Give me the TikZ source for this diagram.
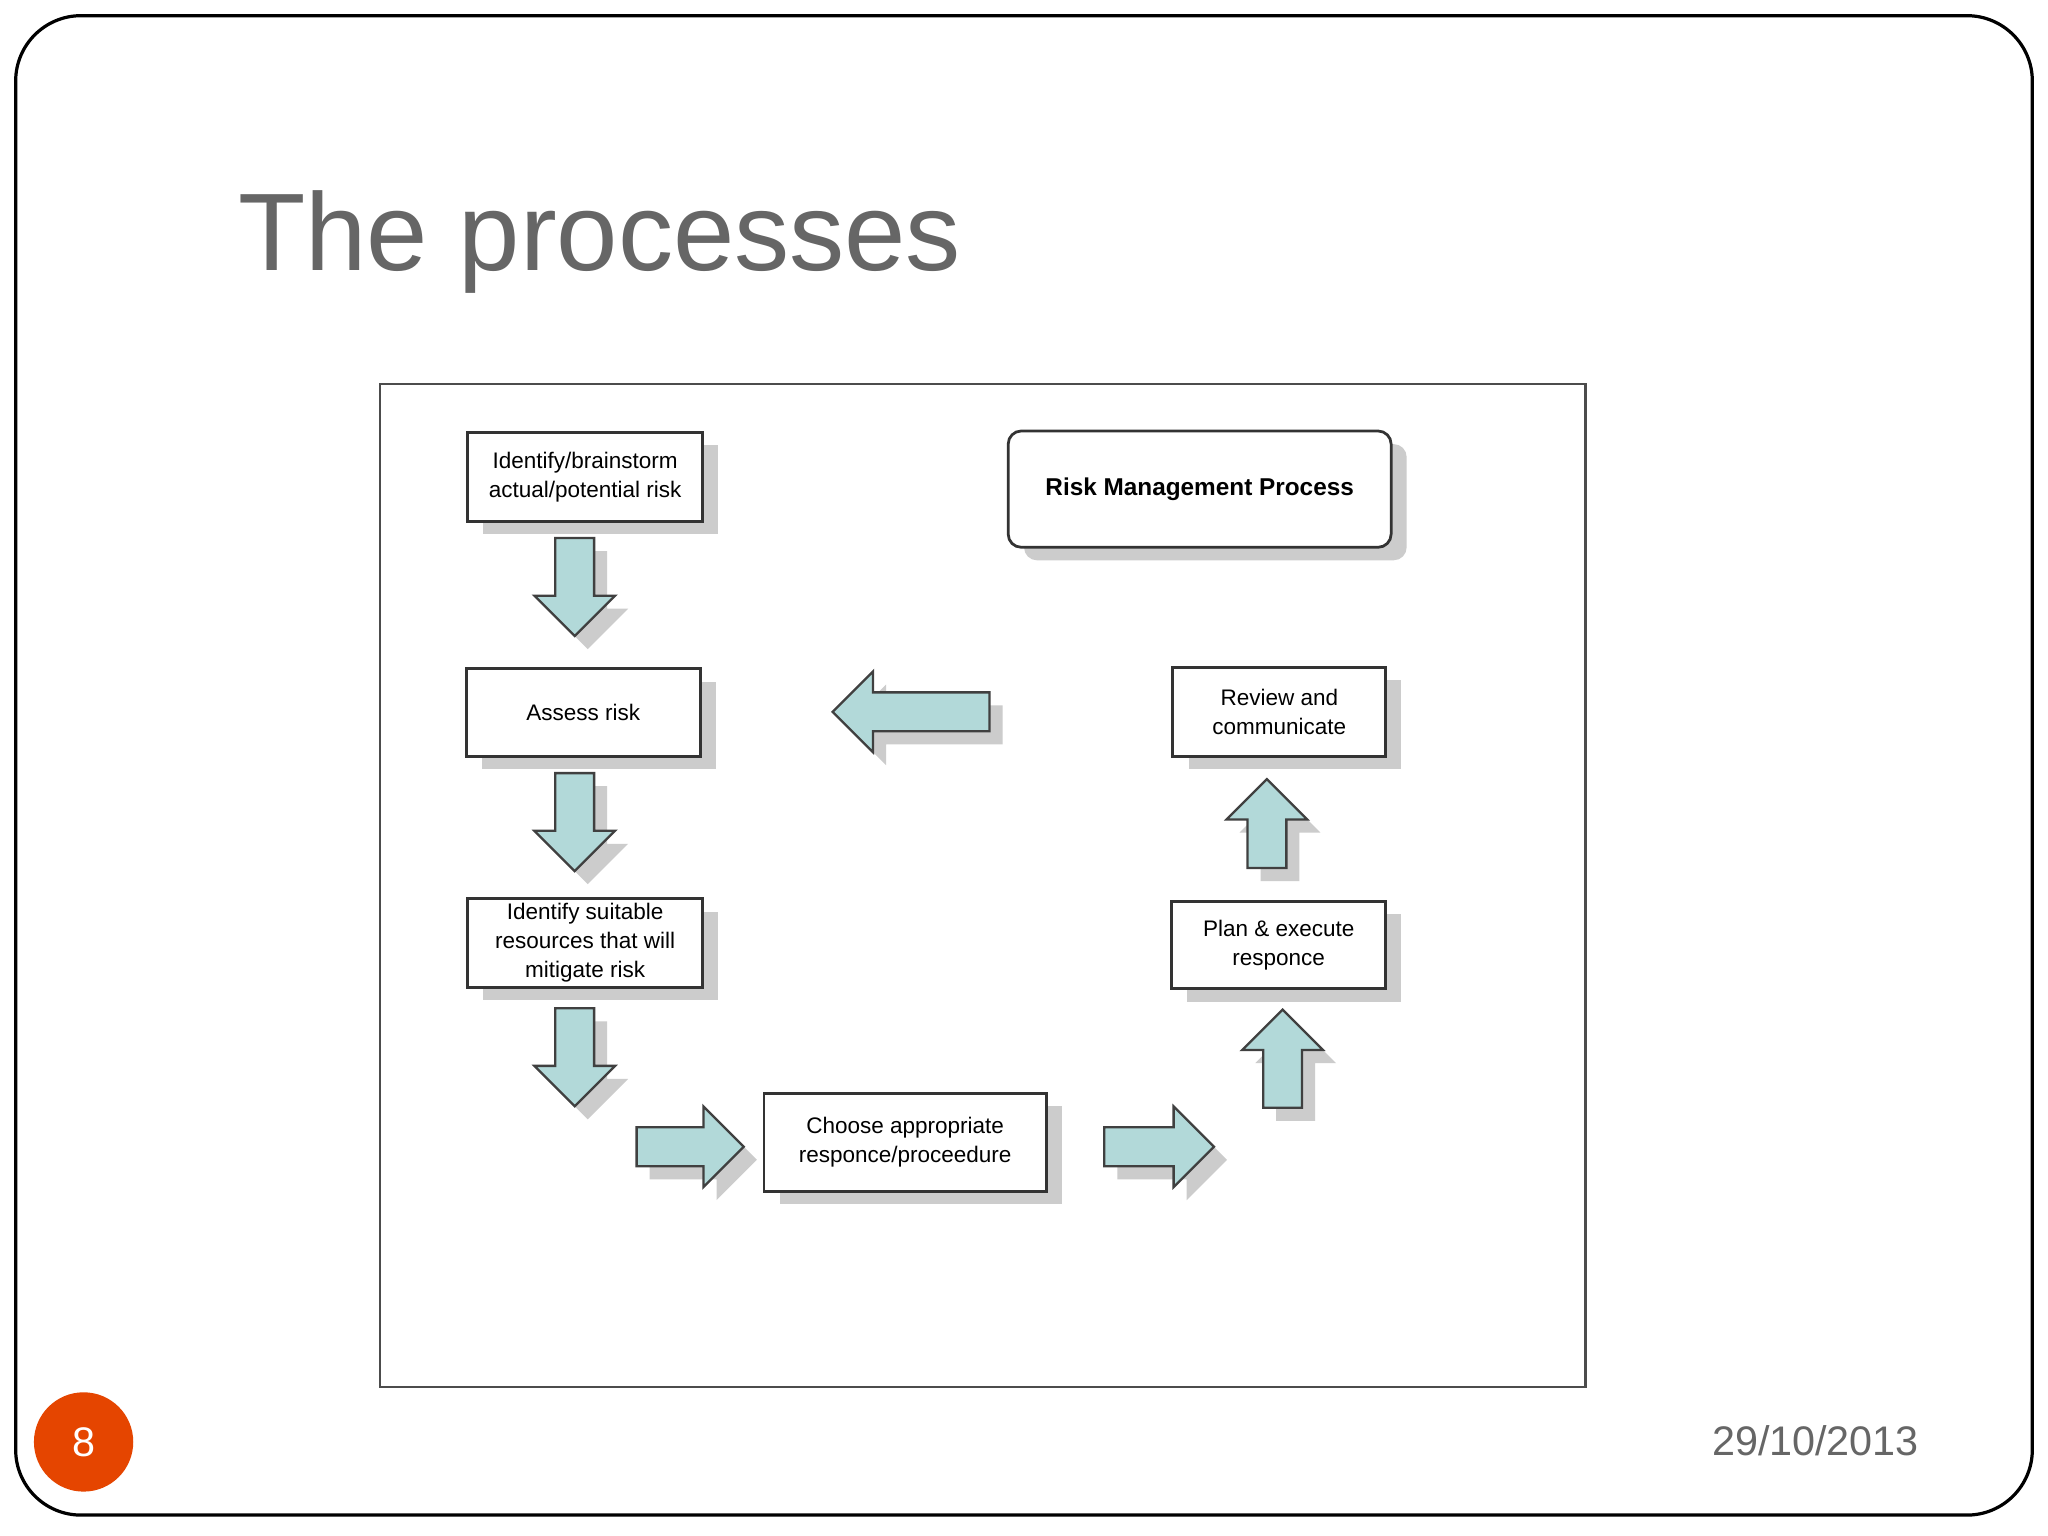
\documentclass[tikz,border=0pt]{standalone}
\usepackage{fontspec}
\setmainfont{Liberation Sans}
\usetikzlibrary{shapes.arrows}
\begin{document}
\begin{tikzpicture}[x=0.01cm,y=-0.01cm,
 box/.style={draw=black!80,line width=0.6pt,fill=white,align=center,font=\fontsize{4.9}{6.3}\selectfont,inner sep=0pt},
 arr/.style={single arrow,draw=black!75,line width=0.5pt,fill=teal!30,inner xsep=0pt,inner ysep=0.14cm,text height=0pt,text depth=0pt,single arrow head extend=0.16cm,single arrow head indent=0pt}]
\useasboundingbox (0,0) rectangle (1568,1176);
\fill[white] (0,0) rectangle (1568,1176);
\draw[line width=0.7pt,rounded corners=0.5cm] (12,12) rectangle (1556,1160);
\node[anchor=base west,text=black!60,font=\fontsize{24}{28}\selectfont] (title) at (170,207) {The processes};
\draw[black!70,line width=0.6pt,fill=white] (291,294) rectangle (1214,1062);
% shadows
\foreach \a/\b/\c/\d in {358/331/538/399,357/512/536/579,358/688/538/756,585/837/801/912,897/690/1061/757,898/511/1061/579}
  \fill[black!20] (\a+12,\b+10) rectangle (\c+12,\d+10);
\fill[black!20,rounded corners=0.1cm] (784,340) rectangle (1077,429);
\node[box,minimum width=1.80cm,minimum height=0.68cm] (b1) at (448,365) {Identify/brainstorm\\actual/potential risk};
\node[box,minimum width=1.79cm,minimum height=0.67cm] (b2) at (446.5,545.5) {Assess risk};
\node[box,minimum width=1.80cm,minimum height=0.68cm] (b3) at (448,722) {Identify suitable\\resources that will\\mitigate risk};
\node[box,minimum width=2.16cm,minimum height=0.75cm] (b4) at (693,874.5) {Choose appropriate\\responce/proceedure};
\node[box,minimum width=1.64cm,minimum height=0.67cm] (b5) at (979,723.5) {Plan \& execute\\responce};
\node[box,minimum width=1.63cm,minimum height=0.68cm] (b6) at (979.5,545) {Review and\\communicate};
\node[box,rounded corners=0.1cm,minimum width=2.93cm,minimum height=0.89cm,font=\fontsize{5.3}{7}\bfseries\selectfont] (rmp) at (918.5,374.5) {Risk Management Process};
% arrows with shadows
\foreach \n/\x/\y/\r/\l in {d1/440/442/-90/0.75, d2/440/622/-90/0.75, d3/440/802/-90/0.75, r1/521/878/0/0.82, r2/880/878/0/0.84, u1/982/818/90/0.75, u2/970/638/90/0.68, l1/705/545/180/1.20}{
  \node[arr,draw=none,fill=black!20,rotate=\r,minimum height=\l cm] at (\x+10,\y+10) {};
  \node[arr,rotate=\r,minimum height=\l cm] (\n) at (\x,\y) {};
}
\fill[orange!60!red!90!black] (64,1104) circle (0.38cm);
\node[text=white,font=\fontsize{9}{10}\selectfont] (pg) at (64,1104) {8};
\node[text=black!60,font=\fontsize{9}{10}\selectfont] (date) at (1390,1103) {29/10/2013};
\end{tikzpicture}
\end{document}
